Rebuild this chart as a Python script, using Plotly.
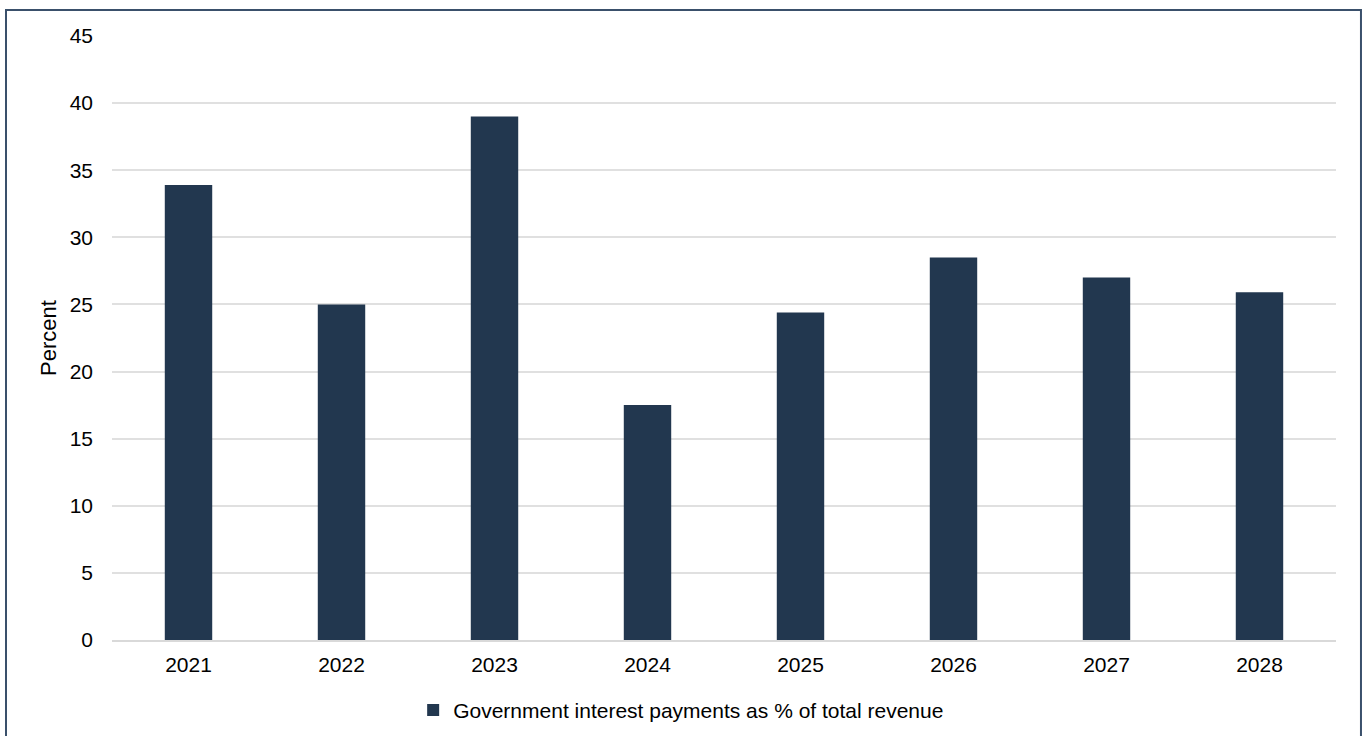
import plotly.graph_objects as go

years = ["2021", "2022", "2023", "2024", "2025", "2026", "2027", "2028"]
values = [33.9, 25.0, 39.0, 17.5, 24.4, 28.5, 27.0, 25.9]
series_name = "Government interest payments as % of total revenue"
y_ticks = [0, 5, 10, 15, 20, 25, 30, 35, 40, 45]

BAR = "#22374F"
FONT = "Liberation Sans, Arial, sans-serif"

fig = go.Figure()
fig.add_trace(go.Bar(x=years, y=values, name=series_name, marker_color=BAR,
                     marker_line_width=0, showlegend=True))

fig.update_layout(
    width=1365, height=736,
    margin=dict(l=112, r=29, t=36, b=96, autoexpand=False),
    paper_bgcolor="white", plot_bgcolor="white",
    font=dict(family=FONT, size=21, color="#000000"),
    bargap=0.69,
    showlegend=True,
    legend=dict(orientation="h", x=0.465, xanchor="center",
                yref="container", y=0.035, yanchor="middle",
                font=dict(size=21), itemwidth=30, traceorder="normal"),
    xaxis=dict(type="category", showgrid=False, showline=True, linecolor="#d9d9d9",
               linewidth=2, ticks="", ticklabelstandoff=5, tickfont=dict(size=21),
               automargin=False),
    yaxis=dict(range=[0, 45], tickvals=y_ticks, showgrid=True, gridcolor="#e0e0e0",
               gridwidth=2, zeroline=False, ticks="", ticklabelstandoff=18,
               tickfont=dict(size=21), automargin=False,
               title=dict(text="Percent", font=dict(size=22), standoff=6)),
    shapes=[dict(type="rect", xref="paper", yref="paper",
                 x0=-0.0866, x1=1.0204, y0=-0.17, y1=1.043,
                 line=dict(color="#3A506B", width=2), fillcolor="rgba(0,0,0,0)",
                 layer="above")],
)

fig.write_html("out.html")
